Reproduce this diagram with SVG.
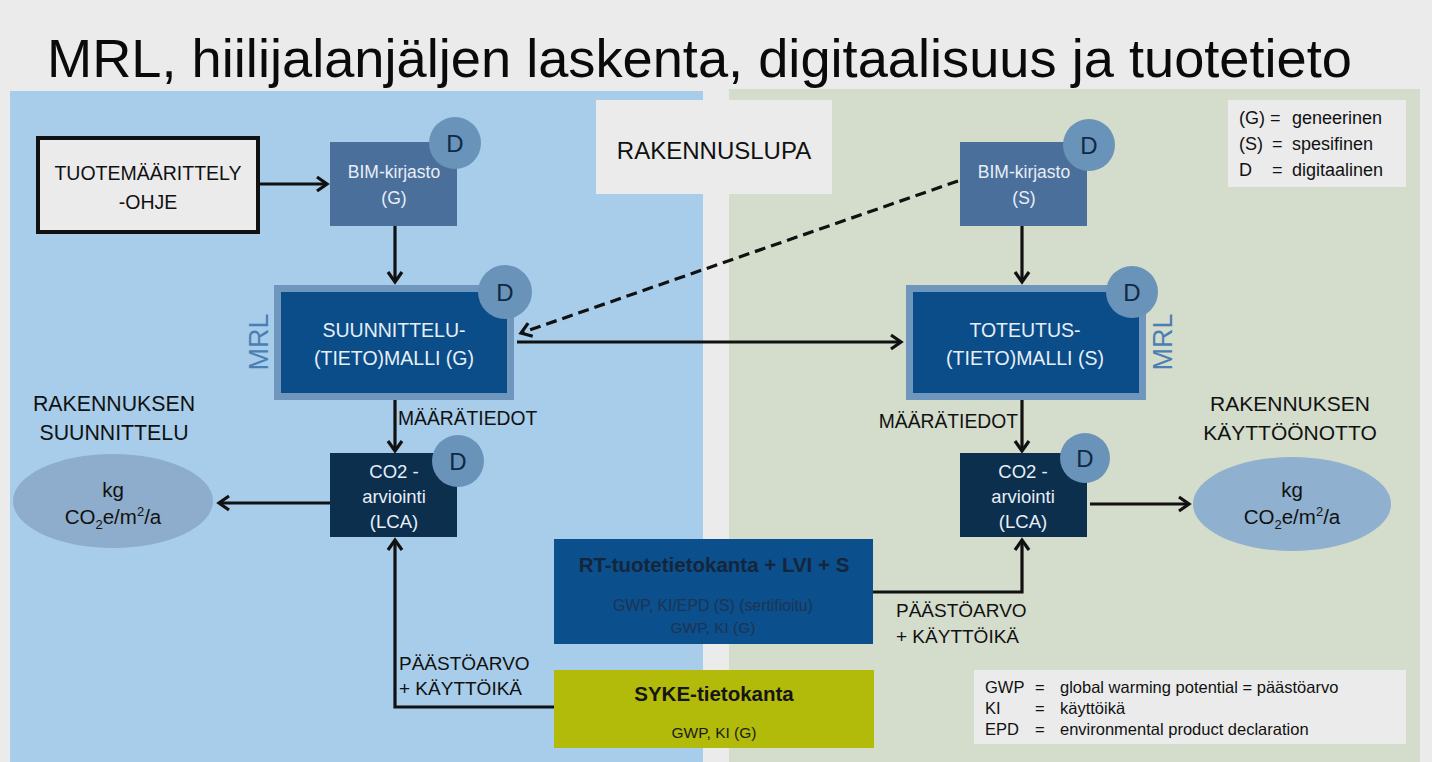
<svg xmlns="http://www.w3.org/2000/svg" width="1432" height="762" viewBox="0 0 1432 762">
<defs>
<marker id="ah" markerUnits="userSpaceOnUse" markerWidth="16" markerHeight="18" refX="12" refY="9" orient="auto">
<path d="M2,2 L12,9 L2,16" fill="none" stroke="#111" stroke-width="3.2"/>
</marker>
</defs>
<style>
text{font-family:"Liberation Sans",Arial,sans-serif;}
.lbl{fill:#111;}
.wt{fill:#e8eef6;text-anchor:middle;}
.d{fill:#6a93b9;}
.dt{fill:#0d2a46;font-size:24px;text-anchor:middle;}
.mrl{fill:#4a7fb2;font-size:27px;text-anchor:middle;}
.ln{fill:none;stroke:#111;stroke-width:3.2;}
.leg{fill:#111;}
</style>
<rect x="0" y="0" width="1432" height="762" fill="#ebebeb"/>
<text x="47" y="77" font-size="54" fill="#0a0a0a" textLength="1305" lengthAdjust="spacingAndGlyphs">MRL, hiilijalanjäljen laskenta, digitaalisuus ja tuotetieto</text>
<rect x="10" y="91" width="693" height="671" fill="#a7cdea"/>
<rect x="729" y="89" width="691" height="673" fill="#d4dccb"/>

<g id="rakennuslupa">
<rect x="596" y="100" width="236" height="94" fill="#ebebeb"/>
<text x="714" y="159" font-size="24" fill="#111" text-anchor="middle">RAKENNUSLUPA</text>
</g>

<g id="legend-top">
<rect x="1228" y="100" width="178" height="87" fill="#ebebeb"/>
<text class="leg" font-size="18"><tspan x="1239" y="124">(G)</tspan><tspan x="1270" y="124">=</tspan><tspan x="1292" y="124">geneerinen</tspan></text>
<text class="leg" font-size="18"><tspan x="1239" y="150">(S)</tspan><tspan x="1272" y="150">=</tspan><tspan x="1292" y="150">spesifinen</tspan></text>
<text class="leg" font-size="18"><tspan x="1239" y="176">D</tspan><tspan x="1272" y="176">=</tspan><tspan x="1292" y="176">digitaalinen</tspan></text>
</g>

<g id="connectors">
<line class="ln" x1="258" y1="184" x2="327" y2="184" marker-end="url(#ah)"/>
<line class="ln" x1="395" y1="226" x2="395" y2="282" marker-end="url(#ah)"/>
<line class="ln" x1="1022" y1="226" x2="1022" y2="282" marker-end="url(#ah)"/>
<line class="ln" x1="517" y1="342" x2="901" y2="342" marker-end="url(#ah)"/>
<line class="ln" x1="958" y1="181" x2="521" y2="333" stroke-dasharray="11,6" marker-end="url(#ah)"/>
<line class="ln" x1="395" y1="400" x2="395" y2="451" marker-end="url(#ah)"/>
<line class="ln" x1="1022" y1="400" x2="1022" y2="451" marker-end="url(#ah)"/>
<line class="ln" x1="330" y1="503" x2="219" y2="503" marker-end="url(#ah)"/>
<line class="ln" x1="1090" y1="504" x2="1189" y2="504" marker-end="url(#ah)"/>
<polyline class="ln" points="873,592 1022,592 1022,540" marker-end="url(#ah)"/>
<polyline class="ln" points="554,707 395,707 395,540" marker-end="url(#ah)"/>
</g>

<g id="tuotemaarittely">
<rect x="38" y="138" width="220" height="94" fill="#ebebeb" stroke="#111" stroke-width="4"/>
<text x="148" y="180" font-size="19.5" fill="#111" text-anchor="middle">TUOTEMÄÄRITTELY</text>
<text x="148" y="209" font-size="19.5" fill="#111" text-anchor="middle">-OHJE</text>
</g>

<g id="bim-g">
<rect x="330" y="142" width="127" height="84" fill="#4a6f9b"/>
<text class="wt" x="394" y="178" font-size="17.5">BIM-kirjasto</text>
<text class="wt" x="394" y="204" font-size="17.5">(G)</text>
<circle class="d" cx="455" cy="143" r="26"/>
<text class="dt" x="455" y="152">D</text>
</g>

<g id="bim-s">
<rect x="960" y="142" width="127" height="84" fill="#4a6f9b"/>
<text class="wt" x="1024" y="178" font-size="17.5">BIM-kirjasto</text>
<text class="wt" x="1024" y="204" font-size="17.5">(S)</text>
<circle class="d" cx="1089" cy="145" r="26"/>
<text class="dt" x="1089" y="154">D</text>
</g>

<g id="suunnittelumalli">
<rect x="277.5" y="288.5" width="233" height="108" fill="#0a4d89" stroke="#6f97bd" stroke-width="7"/>
<text class="wt" x="394" y="337" font-size="19.5">SUUNNITTELU-</text>
<text class="wt" x="394" y="365" font-size="19.5">(TIETO)MALLI (G)</text>
<circle class="d" cx="505" cy="292" r="27"/>
<text class="dt" x="505" y="301">D</text>
<text class="mrl" transform="translate(268,342) rotate(-90)">MRL</text>
</g>

<g id="toteutusmalli">
<rect x="909.5" y="288.5" width="233" height="108" fill="#0a4d89" stroke="#6f97bd" stroke-width="7"/>
<text class="wt" x="1025" y="337" font-size="19.5">TOTEUTUS-</text>
<text class="wt" x="1025" y="365" font-size="19.5">(TIETO)MALLI (S)</text>
<circle class="d" cx="1132" cy="292" r="26"/>
<text class="dt" x="1132" y="301">D</text>
<text class="mrl" transform="translate(1172,342) rotate(-90)">MRL</text>
</g>

<g id="co2-left">
<rect x="330" y="453" width="127" height="84" fill="#0c2f4e"/>
<text class="wt" x="394" y="478" font-size="18.5">CO2 -</text>
<text class="wt" x="394" y="503" font-size="18.5">arviointi</text>
<text class="wt" x="394" y="528" font-size="18.5">(LCA)</text>
<circle class="d" cx="458" cy="461" r="26"/>
<text class="dt" x="458" y="470">D</text>
</g>

<g id="co2-right">
<rect x="960" y="453" width="127" height="84" fill="#0c2f4e"/>
<text class="wt" x="1023" y="478" font-size="18.5">CO2 -</text>
<text class="wt" x="1023" y="503" font-size="18.5">arviointi</text>
<text class="wt" x="1023" y="528" font-size="18.5">(LCA)</text>
<circle class="d" cx="1085" cy="458" r="25"/>
<text class="dt" x="1085" y="467">D</text>
</g>

<g id="labels">
<text class="lbl" x="398" y="425" font-size="19.3">MÄÄRÄTIEDOT</text>
<text class="lbl" x="1018" y="428" font-size="19.3" text-anchor="end">MÄÄRÄTIEDOT</text>
<text class="lbl" x="114" y="411" font-size="21.3" text-anchor="middle">RAKENNUKSEN</text>
<text class="lbl" x="114" y="440" font-size="21.3" text-anchor="middle">SUUNNITTELU</text>
<text class="lbl" x="1290" y="411" font-size="21" text-anchor="middle">RAKENNUKSEN</text>
<text class="lbl" x="1290" y="440" font-size="21" text-anchor="middle">KÄYTTÖÖNOTTO</text>
<text class="lbl" x="896" y="617" font-size="19">PÄÄSTÖARVO</text>
<text class="lbl" x="896" y="643" font-size="19">+ KÄYTTÖIKÄ</text>
<text class="lbl" x="399" y="670" font-size="19">PÄÄSTÖARVO</text>
<text class="lbl" x="399" y="695" font-size="19">+ KÄYTTÖIKÄ</text>
</g>

<g id="result-left">
<ellipse cx="113" cy="501" rx="100" ry="47" fill="#8eaccb"/>
<text x="113" y="497" font-size="20.5" fill="#111" text-anchor="middle">kg</text>
<text x="113" y="524" font-size="20.5" fill="#111" text-anchor="middle">CO<tspan font-size="13" dy="5">2</tspan><tspan dy="-5">e/m</tspan><tspan font-size="13" dy="-8">2</tspan><tspan dy="8">/a</tspan></text>
</g>

<g id="result-right">
<ellipse cx="1292" cy="504" rx="99" ry="47" fill="#8fb0cf"/>
<text x="1292" y="497" font-size="20.5" fill="#111" text-anchor="middle">kg</text>
<text x="1292" y="524" font-size="20.5" fill="#111" text-anchor="middle">CO<tspan font-size="13" dy="5">2</tspan><tspan dy="-5">e/m</tspan><tspan font-size="13" dy="-8">2</tspan><tspan dy="8">/a</tspan></text>
</g>

<g id="rt-tuotetietokanta">
<rect x="554" y="539" width="319" height="105" fill="#0b4f8c"/>
<text x="714" y="572" font-size="20.5" font-weight="bold" fill="#15263a" text-anchor="middle">RT-tuotetietokanta + LVI + S</text>
<text x="713" y="611" font-size="15.8" fill="#1d3452" text-anchor="middle">GWP, KI/EPD (S) (sertifioitu)</text>
<text x="713" y="633" font-size="15.5" fill="#1d3452" text-anchor="middle">GWP, KI (G)</text>
</g>

<g id="syke-tietokanta">
<rect x="554" y="670" width="320" height="78" fill="#b2ba0a"/>
<text x="714" y="701" font-size="20.5" font-weight="bold" fill="#151515" text-anchor="middle">SYKE-tietokanta</text>
<text x="714" y="738" font-size="15.5" fill="#1a1a1a" text-anchor="middle">GWP, KI (G)</text>
</g>

<g id="legend-bottom">
<rect x="974" y="670" width="432" height="74" fill="#ebebeb"/>
<text class="leg" font-size="16.5"><tspan x="985" y="693">GWP</tspan><tspan x="1035" y="693">=</tspan><tspan x="1060" y="693">global warming potential = päästöarvo</tspan></text>
<text class="leg" font-size="16.5"><tspan x="985" y="714">KI</tspan><tspan x="1035" y="714">=</tspan><tspan x="1060" y="714">käyttöikä</tspan></text>
<text class="leg" font-size="16.5"><tspan x="985" y="735">EPD</tspan><tspan x="1035" y="735">=</tspan><tspan x="1060" y="735">environmental product declaration</tspan></text>
</g>
</svg>
